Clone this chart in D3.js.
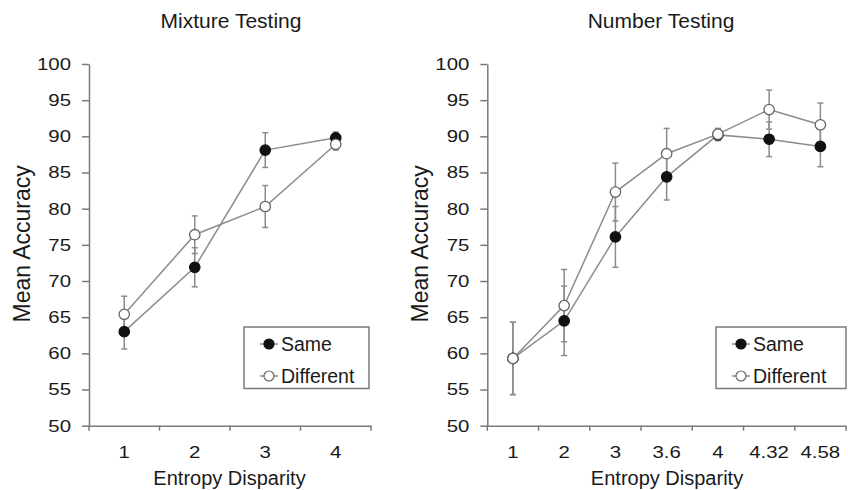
<!DOCTYPE html>
<html>
<head>
<meta charset="utf-8">
<script src="https://cdn.jsdelivr.net/npm/d3@7"></script>
<style>
  body { margin: 0; background: #fff; }
  text { font-family: "Liberation Sans", Arial, sans-serif; fill: #1a1a1a; }
</style>
</head>
<body>
<script>
// data
var seriesNames = ["Same", "Different"];
var yTicks = [50, 55, 60, 65, 70, 75, 80, 85, 90, 95, 100];

var mixCats = ["1", "2", "3", "4"];
var mixSame = [63.0, 71.9, 88.1, 89.8];
var mixSameErr = [2.4, 2.7, 2.4, 0.8];
var mixDiff = [65.4, 76.4, 80.3, 88.9];
var mixDiffErr = [2.5, 2.6, 2.9, 0.8];

var numCats = ["1", "2", "3", "3.6", "4", "4.32", "4.58"];
var numSame = [59.3, 64.5, 76.1, 84.4, 90.2, 89.6, 88.6];
var numSameErr = [5.0, 4.8, 4.2, 3.2, 0.8, 2.4, 2.8];
var numDiff = [59.3, 66.6, 82.3, 87.6, 90.3, 93.7, 91.6];
var numDiffErr = [5.0, 5.0, 4.0, 3.5, 0.8, 2.7, 3.0];

var W = 848, H = 490;
var svg = d3.select("body").append("svg").attr("width", W).attr("height", H);

var yTop = 64, yBot = 425.7;
var axisCol = "#7a7a7a", lineCol = "#8c8c8c";
var sx = 1.2; // tick labels look stretched sideways

function panel(opt) {
    var x = d3.scaleBand().domain(opt.cats).range([opt.x0, opt.x1]).padding(0);
    var y = d3.scaleLinear().domain([50, 100]).range([yBot, yTop]);
    var g = svg.append("g");

    // title
    g.append("text").attr("x", opt.titleX).attr("y", 27.7)
        .attr("text-anchor", "middle").style("font-size", "21px").text(opt.title);

    // y axis
    var ya = g.append("g").attr("transform", "translate(" + opt.x0 + ",0)")
        .call(d3.axisLeft(y).tickValues(yTicks).tickSize(7).tickPadding(11).tickSizeOuter(0));
    ya.select(".domain").attr("stroke", axisCol).attr("stroke-width", 1.5);
    ya.selectAll(".tick line").attr("stroke", axisCol).attr("stroke-width", 1.5);
    ya.selectAll(".tick text").style("font-size", "17px").attr("fill", "#1a1a1a")
        .attr("x", -18 / sx).attr("transform", "scale(" + sx + ",1)");

    // x axis labels at band centres, ticks at band edges
    var xa = g.append("g").attr("transform", "translate(0," + yBot + ")")
        .call(d3.axisBottom(x).tickSize(0).tickPadding(20).tickSizeOuter(0));
    xa.select(".domain").attr("stroke", axisCol).attr("stroke-width", 1.5);
    xa.selectAll(".tick text").style("font-size", "17px").attr("fill", "#1a1a1a")
        .each(function () {
            var t = d3.select(this);
            var tr = d3.select(this.parentNode).attr("transform");
            var cx = +tr.match(/translate\(([^,]+)/)[1];
            t.attr("x", cx / sx).attr("transform", "scale(" + sx + ",1)");
            d3.select(this.parentNode).attr("transform", null);
        });
    var edges = opt.cats.map(function (c) { return x(c); }).concat([opt.x1]);
    g.selectAll(".xedge").data(edges).enter().append("line")
        .attr("x1", function (d) { return d; }).attr("x2", function (d) { return d; })
        .attr("y1", yBot).attr("y2", yBot + 5)
        .attr("stroke", axisCol).attr("stroke-width", 1.5);

    // axis titles
    g.append("text").attr("x", opt.xLabelX).attr("y", 485.3)
        .attr("text-anchor", "middle").style("font-size", "20px").text("Entropy Disparity");
    g.append("text")
        .attr("transform", "translate(" + (opt.x0 - 59) + "," + ((yTop + yBot) / 2 - 1) + ") rotate(-90)")
        .attr("text-anchor", "middle").style("font-size", "23px").text("Mean Accuracy");

    var cx = function (d) { return x(d.c) + x.bandwidth() / 2; };
    var series = [
        { vals: opt.same, errs: opt.sameErr, fill: "#111", stroke: "#111" },
        { vals: opt.diff, errs: opt.diffErr, fill: "#fff", stroke: "#666" }
    ];

    // error bars first
    series.forEach(function (s) {
        var pts = opt.cats.map(function (c, i) { return { c: c, v: s.vals[i], e: s.errs[i] }; });
        var eb = g.append("g").selectAll("g").data(pts).enter().append("g");
        eb.append("line").attr("x1", cx).attr("x2", cx)
            .attr("y1", function (d) { return y(d.v - d.e); })
            .attr("y2", function (d) { return y(d.v + d.e); })
            .attr("stroke", lineCol).attr("stroke-width", 1.5);
        [1, -1].forEach(function (k) {
            eb.append("line")
                .attr("x1", function (d) { return cx(d) - 3; })
                .attr("x2", function (d) { return cx(d) + 3; })
                .attr("y1", function (d) { return y(d.v + k * d.e); })
                .attr("y2", function (d) { return y(d.v + k * d.e); })
                .attr("stroke", lineCol).attr("stroke-width", 1.5);
        });
    });

    // lines and markers
    series.forEach(function (s) {
        var pts = opt.cats.map(function (c, i) { return { c: c, v: s.vals[i] }; });
        g.append("path").datum(pts)
            .attr("d", d3.line().x(cx).y(function (d) { return y(d.v); }))
            .attr("fill", "none").attr("stroke", lineCol).attr("stroke-width", 1.5);
        g.append("g").selectAll("circle").data(pts).enter().append("circle")
            .attr("cx", cx).attr("cy", function (d) { return y(d.v); })
            .attr("r", 5.2).attr("fill", s.fill).attr("stroke", s.stroke).attr("stroke-width", 1.3);
    });

    // legend
    var lg = g.append("g").attr("transform", "translate(" + opt.lx + ",327)");
    lg.append("rect").attr("width", opt.lw).attr("height", 61.5)
        .attr("fill", "#fff").attr("stroke", axisCol).attr("stroke-width", 1.5);
    var items = lg.selectAll(".item").data(seriesNames).enter().append("g")
        .attr("transform", function (d, i) { return "translate(0," + (17 + i * 32) + ")"; });
    items.append("line").attr("x1", 16).attr("x2", 34).attr("stroke", lineCol).attr("stroke-width", 1.5);
    items.append("circle").attr("cx", 25).attr("r", 5)
        .attr("fill", function (d, i) { return series[i].fill; })
        .attr("stroke", function (d, i) { return series[i].stroke; }).attr("stroke-width", 1.2);
    items.append("text").attr("x", 37).attr("y", 7).style("font-size", "19.5px").text(function (d) { return d; });
}

panel({
    title: "Mixture Testing", titleX: 231, xLabelX: 229.5,
    cats: mixCats, x0: 89, x1: 371,
    same: mixSame, sameErr: mixSameErr, diff: mixDiff, diffErr: mixDiffErr,
    lx: 244, lw: 125
});
panel({
    title: "Number Testing", titleX: 661, xLabelX: 667,
    cats: numCats, x0: 487.3, x1: 846,
    same: numSame, sameErr: numSameErr, diff: numDiff, diffErr: numDiffErr,
    lx: 716, lw: 130
});
</script>
</body>
</html>
